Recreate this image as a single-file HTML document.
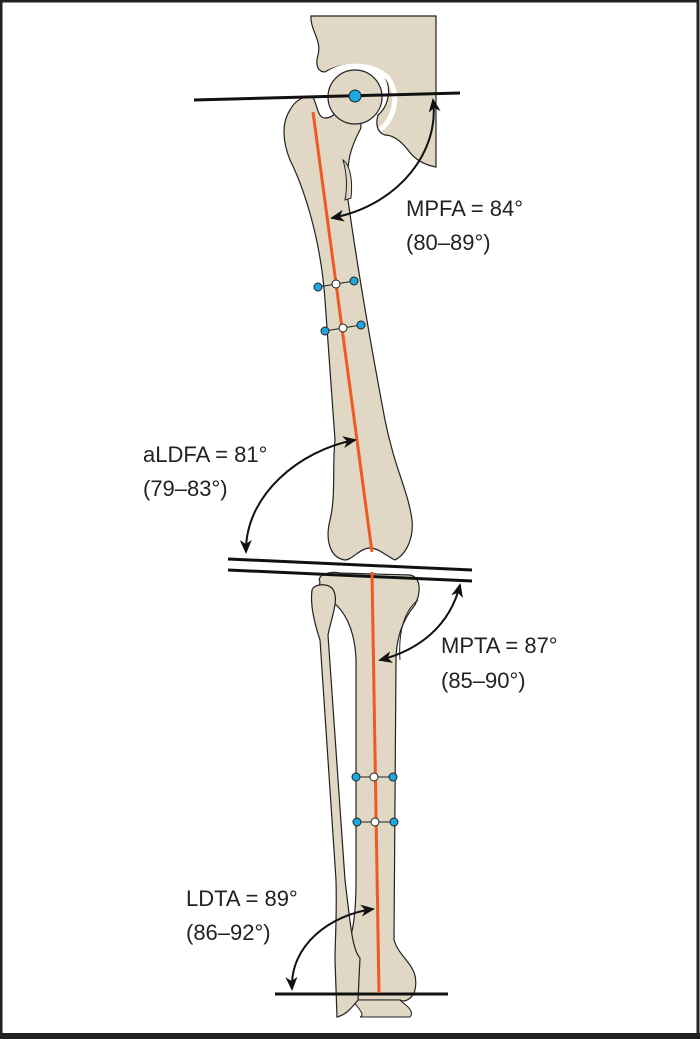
<!DOCTYPE html>
<html><head><style>
html,body{margin:0;padding:0;background:#fff;}
svg{display:block;}
text{font-family:"Liberation Sans",sans-serif;font-size:22px;fill:#222;}
</style></head><body>
<svg width="700" height="1039" viewBox="0 0 700 1039" xmlns="http://www.w3.org/2000/svg">
<defs>
<marker id="ah" markerWidth="14" markerHeight="12" refX="12" refY="6" orient="auto-start-reverse" markerUnits="userSpaceOnUse">
<path d="M0,0 L14,6 L0,12 L4,6 Z" fill="#111"/></marker>
</defs>
<rect x="1" y="1" width="697" height="1035" fill="#fff" stroke="#222" stroke-width="3"/>
<rect x="0" y="1033" width="700" height="6" fill="#222"/>
<!-- pelvis -->
<path d="M311,16 L436,16 L436,167 C425,165 415,160 408,150 C400,140 392,135 385,135 C378,133 375,125 378,115 C390,105 392,85 383,75 C370,62 340,62 325,72 C318,72 315,65 318,55 C322,40 310,30 311,16 Z" fill="#e0d8c4" stroke="#222" stroke-width="1.2"/>
<path d="M380,130 C395,118 400,95 388,78 C375,64 345,62 328,74" fill="none" stroke="#fff" stroke-width="5"/>
<!-- tibia -->
<path d="M320,582 C316,575 330,571 340,573 L410,575 C420,577 422,590 415,605 C402,620 396,640 396,660 L394,940 C400,960 420,965 415,990 C413,998 405,1003 400,1000 L350,1000 C340,1003 338,990 342,960 C352,940 356,920 356,880 L356,660 C355,630 345,610 330,600 C322,595 318,590 320,582 Z" fill="#e0d8c4" stroke="#222" stroke-width="1.2"/>
<path d="M352,1000 C360,1010 365,1015 360,1017 L410,1017 C416,1010 402,1003 400,1000 Z" fill="#e0d8c4" stroke="#222" stroke-width="1"/>
<path d="M400,660 C398,630 405,610 418,600" fill="none" stroke="#222" stroke-width="1"/>
<!-- fibula -->
<path d="M312,590 C314,584 326,583 332,588 C340,598 332,615 328,635 L345,880 C350,920 352,950 360,958 L358,1000 C350,1010 345,1015 337,1017 L335,960 C335,940 337,920 336,880 L320,640 C315,625 310,605 312,590 Z" fill="#e0d8c4" stroke="#222" stroke-width="1.2"/>
<!-- femur -->
<path d="M290,110 C295,100 305,95 313,97 C318,108 318,118 325,118 C335,118 338,110 340,100 L345,95 C350,110 365,120 360,130 C352,145 345,160 348,200 C355,250 368,330 385,420 C395,470 408,490 412,520 C414,540 405,555 395,560 C385,555 378,548 370,548 C360,548 352,560 345,560 C330,558 325,540 330,520 C336,495 332,470 335,440 L325,300 C320,230 300,180 290,160 C282,140 282,122 290,110 Z" fill="#e0d8c4" stroke="#222" stroke-width="1.2"/>
<circle cx="355" cy="97" r="27" fill="#e0d8c4" stroke="#222" stroke-width="1.2"/>
<path d="M343,160 C346,170 348,185 345,200 L351,198 C353,180 350,165 343,160 Z" fill="#e0d8c4" stroke="#222" stroke-width="1"/>
<!-- reference lines -->
<line x1="194" y1="100" x2="460" y2="93" stroke="#111" stroke-width="3"/>
<line x1="228" y1="559" x2="472" y2="570" stroke="#111" stroke-width="3"/>
<line x1="228" y1="570" x2="472" y2="581" stroke="#111" stroke-width="3"/>
<line x1="275" y1="994" x2="448" y2="994" stroke="#111" stroke-width="3"/>
<!-- axes -->
<line x1="313" y1="112" x2="372" y2="552" stroke="#f05a22" stroke-width="3"/>
<line x1="372" y1="572" x2="379" y2="993" stroke="#f05a22" stroke-width="3"/>
<circle cx="355" cy="96" r="6" fill="#1ba9e0" stroke="#222"/>
<g stroke="#222" stroke-width="1">
<line x1="318" y1="287" x2="354" y2="281"/><line x1="325" y1="331" x2="361" y2="325"/>
<line x1="356" y1="777" x2="393" y2="777"/><line x1="357" y1="822" x2="394" y2="822"/>
<circle cx="318" cy="287" r="4" fill="#1ba9e0"/><circle cx="336" cy="284" r="4" fill="#fff"/><circle cx="354" cy="281" r="4" fill="#1ba9e0"/>
<circle cx="325" cy="331" r="4" fill="#1ba9e0"/><circle cx="343" cy="328" r="4" fill="#fff"/><circle cx="361" cy="325" r="4" fill="#1ba9e0"/>
<circle cx="356" cy="777" r="4" fill="#1ba9e0"/><circle cx="374" cy="777" r="4" fill="#fff"/><circle cx="393" cy="777" r="4" fill="#1ba9e0"/>
<circle cx="357" cy="822" r="4" fill="#1ba9e0"/><circle cx="375" cy="822" r="4" fill="#fff"/><circle cx="394" cy="822" r="4" fill="#1ba9e0"/>
</g>
<!-- arcs -->
<g fill="none" stroke="#111" stroke-width="2">
<path d="M433,100 C440,150 400,205 332,218" marker-start="url(#ah)" marker-end="url(#ah)"/>
<path d="M355,440 C300,450 245,495 246,552" marker-start="url(#ah)" marker-end="url(#ah)"/>
<path d="M460,585 C450,625 420,650 380,660" marker-start="url(#ah)" marker-end="url(#ah)"/>
<path d="M373,909 C330,915 290,945 292,989" marker-start="url(#ah)" marker-end="url(#ah)"/>
</g>
<text x="406" y="216">MPFA = 84°</text><text x="406" y="250">(80–89°)</text>
<text x="143" y="462">aLDFA = 81°</text><text x="143" y="496">(79–83°)</text>
<text x="441" y="653">MPTA = 87°</text><text x="441" y="688">(85–90°)</text>
<text x="186" y="906">LDTA = 89°</text><text x="186" y="940">(86–92°)</text>
</svg>
</body></html>
